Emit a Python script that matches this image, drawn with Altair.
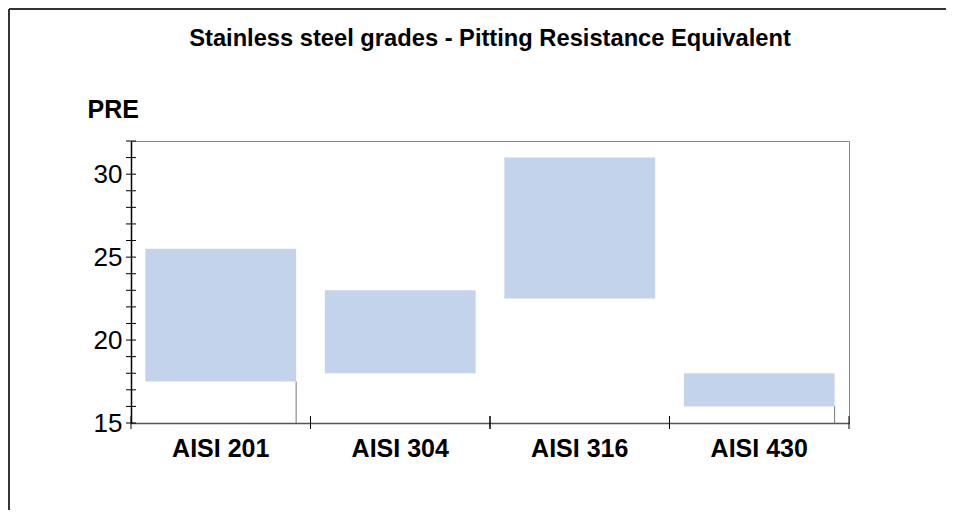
import altair as alt
import pandas as pd

grades = ["AISI 201", "AISI 304", "AISI 316", "AISI 430"]
pre_min = [17.5, 18, 22.5, 16]
pre_max = [25.5, 23, 31, 18]
y_ticks = list(range(15, 33))
y_labels = [15, 20, 25, 30]
shadow_grades = ["AISI 201", "AISI 430"]

W, H = 718, 282
PAD_L, PAD_T, PAD_R, PAD_B = 123, 133, 97, 87
FONT = "Liberation Sans"

bars_df = pd.DataFrame({"grade": grades, "low": pre_min, "high": pre_max})
shadow_df = bars_df[bars_df["grade"].isin(shadow_grades)]
ytick_df = pd.DataFrame({"v": y_ticks})
frame_df = pd.DataFrame({"k": [0]})

x_scale = alt.Scale(domain=grades, paddingInner=0, paddingOuter=0)
y_scale = alt.Scale(domain=[15, 32], nice=False, zero=False)

x_axis = alt.Axis(
    title=None, labelAngle=0, labelFontSize=25, labelFontWeight="bold",
    labelFont=FONT, labelColor="black", labelPadding=13, ticks=False,
    domainColor="#555", domainWidth=1.5, grid=False)
y_axis = alt.Axis(
    values=y_labels, ticks=False, labelFontSize=26, labelFont=FONT,
    labelColor="black", labelPadding=9, domainColor="black",
    domainWidth=1.5, grid=False,
    title="PRE", titleAngle=0, titleAlign="left", titleX=-44, titleY=-24,
    titleBaseline="alphabetic", titleFontSize=25, titleFont=FONT,
    titleFontWeight="bold", titleColor="black")

bars = alt.Chart(bars_df).mark_bar(
    color="#c3d3ec", width=alt.RelativeBandSize(0.84)
).encode(
    x=alt.X("grade:N", scale=x_scale, sort=grades, axis=x_axis),
    y=alt.Y("low:Q", scale=y_scale, axis=y_axis),
    y2="high:Q",
)

shadow = alt.Chart(shadow_df).mark_rule(color="#777", strokeWidth=1).encode(
    x=alt.X("grade:N", scale=x_scale, sort=grades, bandPosition=0.92, axis=x_axis),
    y=alt.Y("low:Q", scale=y_scale, axis=y_axis),
    y2=alt.datum(15),
)

yticks = alt.Chart(ytick_df).mark_rule(color="black", strokeWidth=1).encode(
    y=alt.Y("v:Q", scale=y_scale, axis=y_axis),
    x=alt.value(-5), x2=alt.value(5),
)

xticks_start = alt.Chart(bars_df).mark_rule(color="black", strokeWidth=1).encode(
    x=alt.X("grade:N", scale=x_scale, sort=grades, bandPosition=0, axis=x_axis),
    y=alt.value(H - 7), y2=alt.value(H + 6),
)
xticks_end = alt.Chart(bars_df).mark_rule(color="black", strokeWidth=1).encode(
    x=alt.X("grade:N", scale=x_scale, sort=grades, bandPosition=1, axis=x_axis),
    y=alt.value(H - 7), y2=alt.value(H + 6),
)

frame_left = alt.Chart(frame_df).mark_rule(color="#333", strokeWidth=2).encode(
    x=alt.value(-PAD_L + 1), y=alt.value(-PAD_T + 1), y2=alt.value(H + PAD_B)
)
frame_top = alt.Chart(frame_df).mark_rule(color="#333", strokeWidth=2).encode(
    x=alt.value(-PAD_L + 1), x2=alt.value(W + PAD_R), y=alt.value(-PAD_T + 1)
)

chart = alt.layer(
    bars, shadow, yticks, xticks_start, xticks_end, frame_left, frame_top
).properties(
    width=W, height=H,
    padding={"left": PAD_L, "top": PAD_T, "right": PAD_R, "bottom": PAD_B},
    autosize=alt.AutoSizeParams(type="none"),
    title=alt.Title(
        "Stainless steel grades - Pitting Resistance Equivalent",
        fontSize=23.7, font=FONT, fontWeight="bold", color="black",
        anchor="middle", baseline="alphabetic", offset=-62,
    ),
).configure_view(stroke="#888", strokeWidth=1)

chart.save("out.html", embed_options={"renderer": "svg", "actions": False})
